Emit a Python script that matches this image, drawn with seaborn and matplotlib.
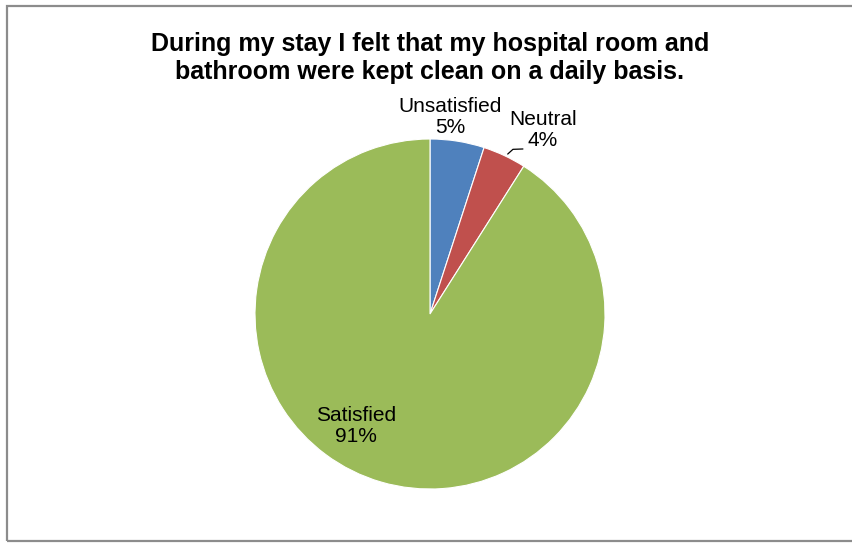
import matplotlib.pyplot as plt
import matplotlib.patches as mpatches
import seaborn as sns

# === Data
labels = ["Unsatisfied", "Neutral", "Satisfied"]
values = [5, 4, 91]
colors = ["#4F81BD", "#C0504D", "#9BBB59"]

sns.set_theme(style="white")
plt.rcParams["font.family"] = ["Liberation Sans", "DejaVu Sans"]
plt.rcParams["text.color"] = "black"

fig = plt.figure(figsize=(8.52, 5.43), dpi=100)
fig.patch.set_facecolor("white")

# === Outer border like the Excel chart frame
fig.add_artist(mpatches.Rectangle((6.5 / 852, 2 / 543), 1.0, 535.5 / 543,
                                  transform=fig.transFigure, fill=False,
                                  edgecolor="#8c8c8c", linewidth=1.6))

ax = fig.add_axes([255 / 852, 54 / 543, 350 / 852, 350 / 543])
wedges, _ = ax.pie(values, colors=colors, startangle=90, counterclock=False,
                   wedgeprops=dict(edgecolor="white", linewidth=0.8))
ax.set_xlim(-1, 1)
ax.set_ylim(-1, 1)
ax.set_aspect("equal")
ax.axis("off")

# === Data labels
label_pos = [(0.114, 1.126), (0.646, 1.051), (-0.423, -0.64)]
for lab, val, (x, y) in zip(labels, values, label_pos):
    ax.text(x, y, f"{lab}\n{val}%", ha="center", va="center", fontsize=15,
            color="black", linespacing=1.15, clip_on=False)

# leader line for Neutral
ax.plot([0.444, 0.474, 0.531], [0.914, 0.941, 0.943], color="black",
        linewidth=0.9, clip_on=False)

fig.text(430 / 852, 1 - 58 / 543,
         "During my stay I felt that my hospital room and\nbathroom were kept clean on a daily basis.",
         ha="center", va="center", fontsize=18, fontweight="bold", linespacing=1.17,
         color="black")

fig.savefig("out.png", dpi=100)
